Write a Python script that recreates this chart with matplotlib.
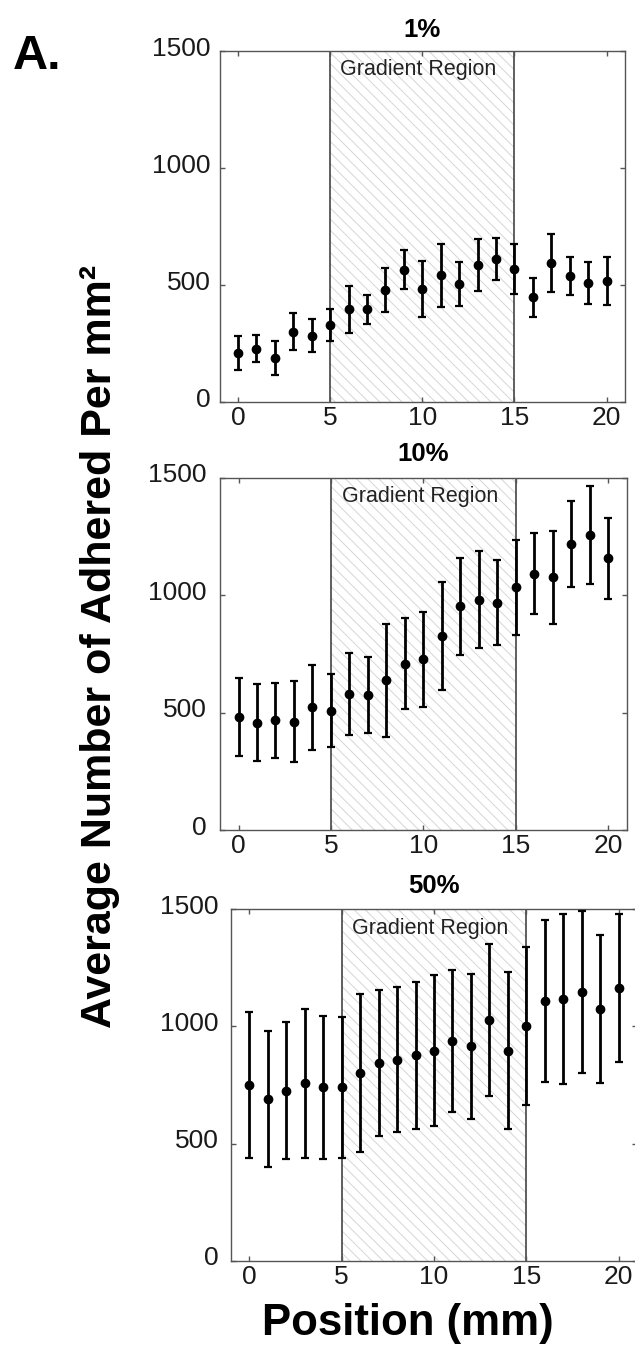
import numpy as np
import matplotlib
matplotlib.use('Agg')
import matplotlib.pyplot as plt
from matplotlib.transforms import ScaledTranslation

plt.rcParams['font.family'] = ['Liberation Sans', 'DejaVu Sans']
plt.rcParams['hatch.linewidth'] = 0.7

position = np.arange(21)  # mm along the channel

# 1% condition
mean_1 = [209, 227, 189, 301, 284, 330, 396, 396, 480, 565, 484,
          541, 504, 584, 612, 568, 447, 594, 537, 509, 518]
err_1 = [72, 58, 72, 78, 72, 68, 100, 63, 94, 83, 120,
         134, 94, 111, 90, 106, 84, 125, 81, 88, 102]

# 10% condition
mean_10 = [481, 457, 467, 461, 522, 508, 579, 575, 637, 708, 727,
           826, 952, 981, 968, 1033, 1091, 1076, 1218, 1256, 1157]
err_10 = [167, 163, 161, 173, 180, 155, 173, 161, 239, 193, 203,
          231, 205, 206, 182, 203, 173, 198, 182, 209, 172]

# 50% condition
mean_50 = [749, 689, 726, 758, 740, 740, 801, 844, 858, 877, 897,
           938, 915, 1027, 897, 1003, 1107, 1117, 1146, 1074, 1164]
err_50 = [311, 290, 293, 318, 305, 301, 337, 312, 310, 314, 322,
          305, 310, 324, 336, 337, 346, 363, 346, 316, 316]

titles = ['1%', '10%', '50%']
grad_start, grad_end = 5, 15

fig = plt.figure(figsize=(6.35, 13.54), dpi=100)

rects = [[0.3457, 0.7031, 0.6386, 0.2592],
         [0.3465, 0.3870, 0.6405, 0.2602],
         [0.3633, 0.0689, 0.6403, 0.2595]]
title_pads = [10, 12, 12]
ylabel_pads = [6.5, 9.5, 8.5]

for rect, title, mean, err, tpad, ypad in zip(rects, titles,
                                              [mean_1, mean_10, mean_50],
                                              [err_1, err_10, err_50],
                                              title_pads, ylabel_pads):
    ax = fig.add_axes(rect)
    # hatched gradient band
    ax.axvspan(grad_start, grad_end, facecolor='white', edgecolor='#d6d6d6',
               hatch='\\\\\\', linewidth=0, zorder=0)
    ax.axvline(grad_start, color='#444444', lw=1.2, zorder=1)
    ax.axvline(grad_end, color='#444444', lw=1.2, zorder=1)
    ax.errorbar(position, mean, yerr=err, fmt='o', color='black', ms=6,
                elinewidth=2, capsize=3, capthick=1.6, zorder=3)
    ax.text(9.8, 1420, 'Gradient Region', ha='center', va='center',
            fontsize=15.5, color='#222222')

    ax.set_xlim(-1, 21)
    ax.set_ylim(0, 1500)
    ax.set_xticks([0, 5, 10, 15, 20])
    ax.set_yticks([0, 500, 1000, 1500])
    ax.tick_params(direction='in', length=3.6, width=1, color='#555555',
                   top=True, right=True, labelsize=19, labelcolor='#1a1a1a')
    ax.tick_params(axis='x', pad=3)
    ax.tick_params(axis='y', pad=ypad)
    for lab in ax.get_yticklabels():
        lab.set_transform(lab.get_transform() +
                          ScaledTranslation(0, 0.05, fig.dpi_scale_trans))
    for sp in ax.spines.values():
        sp.set_color('#555555')
        sp.set_linewidth(1.0)
    ax.set_title(title, fontsize=18.5, fontweight='bold', pad=tpad)

fig.text(100 / 635, 1 - 646 / 1354, 'Average Number of Adhered Per mm²',
         rotation=90, ha='center', va='center', fontsize=31, fontweight='bold')
fig.text(408 / 635, 1 - 1323 / 1354, 'Position (mm)', ha='center',
         va='center', fontsize=31.5, fontweight='bold')
fig.text(13 / 635, 1 - 69 / 1354, 'A.', ha='left', va='baseline',
         fontsize=35, fontweight='bold')

fig.savefig('out.png', dpi=100)
